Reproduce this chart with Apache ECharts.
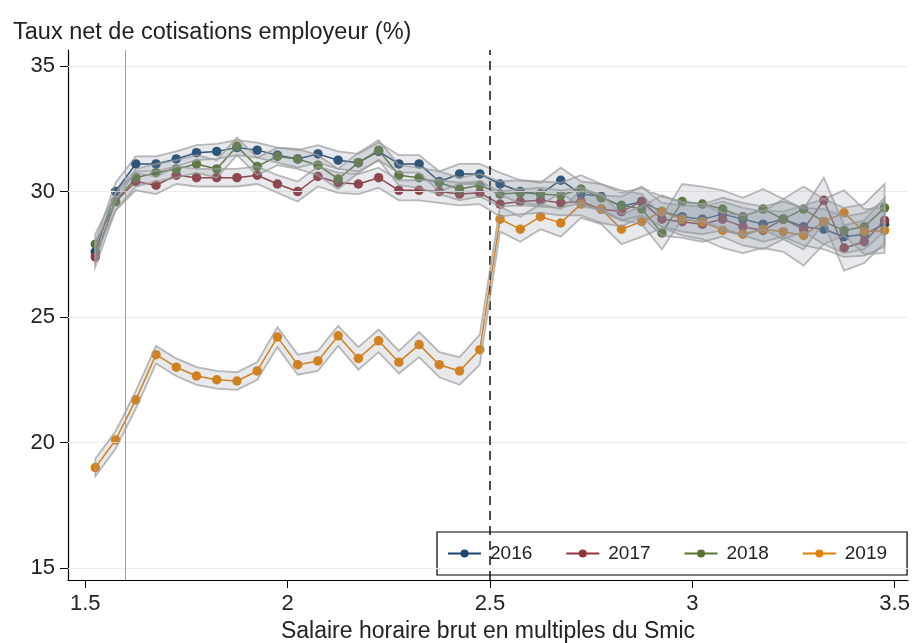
<!DOCTYPE html>
<html>
<head>
<meta charset="utf-8">
<script src="https://cdn.jsdelivr.net/npm/echarts@6/dist/echarts.min.js"></script>
<style>html,body{margin:0;padding:0;background:#fff;}#c{width:912px;height:643px;}</style>
</head>
<body>
<div id="c"></div>
<script>
// x positions (multiples of Smic, bin centres)
const xs = [1.525,1.575,1.625,1.675,1.725,1.775,1.825,1.875,1.925,1.975,
            2.025,2.075,2.125,2.175,2.225,2.275,2.325,2.375,2.425,2.475,
            2.525,2.575,2.625,2.675,2.725,2.775,2.825,2.875,2.925,2.975,
            3.025,3.075,3.125,3.175,3.225,3.275,3.325,3.375,3.425,3.475];
const years = ['2016','2017','2018','2019'];
const v2016 = [27.6,30.0,31.1,31.1,31.3,31.55,31.6,31.75,31.65,31.45,
               31.3,31.5,31.25,31.15,31.6,31.1,31.1,30.4,30.7,30.7,
               30.3,30.0,29.9,30.45,29.9,29.8,29.4,29.6,29.2,29.0,
               28.9,29.1,28.9,28.7,28.9,28.6,28.5,28.2,28.3,28.7];
const v2017 = [27.4,29.6,30.4,30.25,30.65,30.55,30.55,30.55,30.65,30.3,
               30.0,30.6,30.35,30.3,30.55,30.05,30.05,30.0,29.9,29.95,
               29.5,29.6,29.65,29.55,29.6,29.3,29.2,29.6,28.9,28.8,
               28.7,28.9,28.6,28.45,28.9,28.5,29.65,27.75,28.0,28.85];
const v2018 = [27.9,29.6,30.55,30.75,30.9,31.1,30.9,31.8,31.0,31.4,
               31.3,31.05,30.5,31.15,31.65,30.65,30.55,30.35,30.1,30.25,
               29.9,29.95,29.9,29.85,30.1,29.75,29.45,29.3,28.35,29.6,
               29.5,29.3,29.0,29.3,28.9,29.3,28.8,28.45,28.6,29.35];
const v2019 = [19.0,20.1,21.7,23.5,23.0,22.65,22.5,22.45,22.85,24.2,
               23.1,23.25,24.25,23.35,24.05,23.2,23.9,23.1,22.85,23.7,
               28.9,28.5,29.0,28.75,29.5,29.3,28.5,28.8,29.2,28.9,
               28.8,28.45,28.3,28.5,28.4,28.25,28.8,29.15,28.4,28.45];
// confidence-interval half widths
const ci2016 = [0.4,0.35,0.3,0.3,0.3,0.3,0.3,0.3,0.3,0.3,
                0.35,0.35,0.35,0.35,0.35,0.35,0.35,0.4,0.4,0.4,
                0.45,0.45,0.45,0.5,0.5,0.5,0.55,0.55,0.6,0.6,
                0.6,0.65,0.65,0.7,0.7,0.75,0.8,0.8,0.85,0.9];
const ci2017 = [0.4,0.35,0.35,0.35,0.35,0.35,0.35,0.35,0.35,0.35,
                0.4,0.4,0.4,0.4,0.4,0.4,0.4,0.45,0.45,0.45,
                0.5,0.5,0.5,0.5,0.55,0.55,0.6,0.6,0.65,0.65,
                0.7,0.7,0.75,0.75,0.8,0.8,0.9,0.9,0.85,0.9];
const ci2018 = [0.4,0.35,0.35,0.35,0.35,0.35,0.35,0.35,0.35,0.35,
                0.4,0.4,0.4,0.4,0.4,0.4,0.4,0.45,0.45,0.45,
                0.5,0.5,0.5,0.5,0.55,0.55,0.6,0.6,0.65,0.7,
                0.7,0.75,0.75,0.8,0.8,0.9,0.9,0.9,0.9,0.95];
const ci2019 = [0.35,0.35,0.35,0.35,0.35,0.35,0.35,0.35,0.35,0.4,
                0.4,0.4,0.4,0.45,0.45,0.45,0.5,0.5,0.55,0.6,
                0.5,0.5,0.5,0.55,0.55,0.6,0.6,0.6,0.65,0.65,
                0.7,0.7,0.75,0.75,0.8,1.2,0.9,0.9,0.9,0.9];
const xTicks = [1.5,2,2.5,3,3.5];
const yTicks = [15,20,25,30,35];
const refSolid = [1.6];
const refDashed = [2.5];
const colors = ['#1a476f','#90353b','#55752f','#e37e00'];
const values = [v2016,v2017,v2018,v2019];
const cis = [ci2016,ci2017,ci2018,ci2019];

const FONT = '"Liberation Sans Narrow","Arial Narrow","Liberation Sans",Arial,sans-serif';
const FONT2 = '"Liberation Sans",Arial,sans-serif';

function bandSeries(k){
  const v = values[k], c = cis[k];
  const data = xs.map((x,i)=>[x, +(v[i]-c[i]).toFixed(3), +(v[i]+c[i]).toFixed(3)]);
  return {
    type:'custom', name:'ci'+years[k], silent:true, z:4+k,
    encode:{x:0, y:[1,2]},
    data:data,
    renderItem:function(params, api){
      if(params.dataIndexInside !== 0) return null;
      const up = [], lo = [];
      for(let i=0;i<data.length;i++){
        up.push(api.coord([data[i][0], data[i][2]]));
        lo.push(api.coord([data[i][0], data[i][1]]));
      }
      return {type:'polygon', shape:{points: up.concat(lo.reverse())},
        style:{fill:'rgba(135,145,160,0.2)', stroke:'rgba(155,155,155,0.7)', lineWidth:1.8}};
    }
  };
}
function lineSeries(k){
  return {
    type:'line', name:years[k], z:3,
    data: xs.map((x,i)=>[x, values[k][i]]),
    symbol:'circle', symbolSize:9.5, showSymbol:true,
    itemStyle:{color:colors[k]},
    lineStyle:{color:colors[k], width:1.5},
    emphasis:{disabled:true}, silent:true
  };
}
const series = [];
series.push({
  type:'line', name:'ref', data:[], silent:true, z:1,
  markLine:{silent:true, symbol:['none','none'], label:{show:false},
    data: yTicks.map(t=>({yAxis:t, lineStyle:{color:'#ececec', width:1, type:'solid'}}))
      .concat(refSolid.map(t=>({xAxis:t, lineStyle:{color:'#a0a0a0', width:1, type:'solid'}})))
  }
});
for(let k=0;k<4;k++){ series.push(lineSeries(k)); }
for(let k=0;k<4;k++){ series.push(bandSeries(k)); }
series.push({
  type:'line', name:'ref2', data:[], silent:true, z:10,
  markLine:{silent:true, symbol:['none','none'], label:{show:false},
    data: refDashed.map(t=>({xAxis:t, lineStyle:{color:'#111', width:1.5, type:[9,6]}}))}
});

const chart = echarts.init(document.getElementById('c'), null, {renderer:'canvas'});
chart.setOption({
  animation:false,
  backgroundColor:'#fff',
  title:{text:'Taux net de cotisations employeur (%)', left:8, top:16,
    textStyle:{fontFamily:FONT2, fontSize:23.5, fontWeight:'normal', color:'#222'}},
  grid:{left:68, right:4, top:50, bottom:63, outerBoundsMode:'none', containLabel:false},
  xAxis:{type:'value', min:1.4575, max:3.533,
    name:'Salaire horaire brut en multiples du Smic', nameLocation:'middle', nameGap:40,
    nameTextStyle:{fontFamily:FONT2, fontSize:23, color:'#222'},
    axisLine:{show:true, onZero:false, lineStyle:{color:'#000', width:1.2}},
    axisTick:{show:true, length:8, customValues:xTicks, lineStyle:{color:'#000'}},
    axisLabel:{customValues:xTicks, fontFamily:FONT, fontSize:22, color:'#222', margin:13},
    splitLine:{show:false}},
  yAxis:{type:'value', min:14.52, max:35.64,
    axisLine:{show:true, onZero:false, lineStyle:{color:'#000', width:1.2}},
    axisTick:{show:true, length:8, customValues:yTicks, lineStyle:{color:'#000'}},
    axisLabel:{customValues:yTicks, fontFamily:FONT, fontSize:22, color:'#222', margin:13},
    splitLine:{show:false}},
  legend:{data:years, left:437, top:532,
    borderColor:'#000', borderWidth:1.2, padding:[12,20,12,10], itemGap:33,
    itemWidth:33, itemHeight:10,
    textStyle:{fontFamily:FONT, fontSize:19, color:'#222', padding:[0,0,0,4]}},
  series:series
});
</script>
</body>
</html>
